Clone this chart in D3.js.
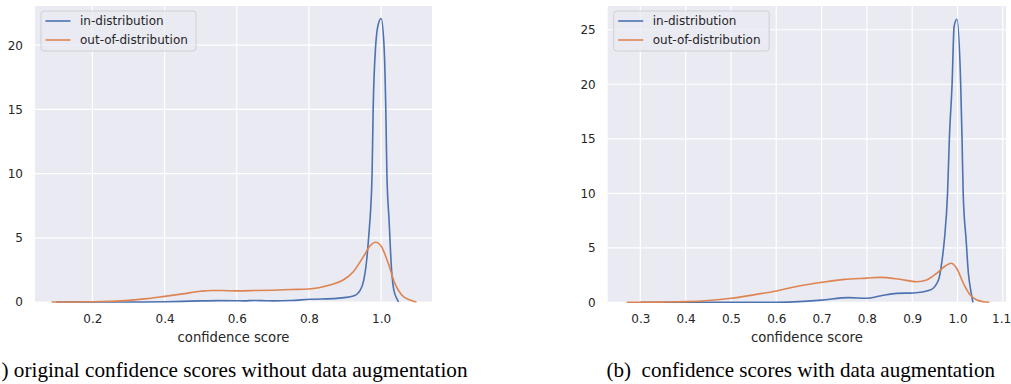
<!DOCTYPE html>
<html><head><meta charset="utf-8">
<script src="https://cdn.jsdelivr.net/npm/d3@7"></script>
<style>body{margin:0;background:#fff}svg{display:block}</style>
</head><body>
<svg id="c" width="1011" height="384"></svg>
<script>
// ---- data ----
const seriesNames = ["in-distribution", "out-of-distribution"];
const colors = ["#4c72b0", "#dd8452"];

// Panel (a): without augmentation
const aInX  = [0.10,0.30,0.40,0.45,0.50,0.55,0.60,0.62,0.65,0.68,0.70,0.75,0.803,0.877,0.923,0.941,0.952,0.960,0.967,0.971,0.975,0.978,0.985,0.9924,1.000,1.008,1.013,1.016,1.022,1.029,1.035,1.045,1.048];
const aInY  = [0,0,0.02,0.05,0.09,0.11,0.10,0.09,0.12,0.10,0.09,0.12,0.21,0.28,0.46,0.87,1.70,3.25,5.6,7.2,10.0,15.0,20.0,21.66,22.08,20.0,15.0,10.0,6.4,2.5,0.96,0.18,0];
const aOutX = [0.087,0.15,0.20,0.25,0.30,0.35,0.40,0.45,0.50,0.53,0.56,0.60,0.65,0.70,0.75,0.80,0.858,0.895,0.923,0.951,0.969,0.985,1.001,1.020,1.038,1.057,1.080,1.098];
const aOutY = [0,0.005,0.02,0.06,0.13,0.26,0.44,0.63,0.84,0.90,0.89,0.87,0.89,0.92,0.97,1.01,1.32,1.71,2.36,3.53,4.36,4.65,4.30,3.00,1.45,0.54,0.16,0];

// Panel (b): with augmentation
const bInX  = [0.30,0.50,0.60,0.65,0.70,0.76,0.80,0.829,0.866,0.903,0.940,0.958,0.965,0.971,0.978,0.982,0.988,0.9925,0.9986,1.007,1.010,1.0125,1.019,1.024,1.029,1.034];
const bInY  = [0,0,0.01,0.06,0.20,0.43,0.37,0.58,0.82,0.86,1.13,2.05,3.58,5.72,10.0,15.0,20.0,25.3,25.96,20.0,15.0,10.0,5.72,2.66,1.13,0];
const bOutX = [0.27,0.30,0.35,0.40,0.45,0.50,0.55,0.60,0.65,0.70,0.75,0.80,0.829,0.873,0.910,0.932,0.954,0.973,0.986,0.998,1.013,1.028,1.043,1.057,1.07];
const bOutY = [0,0.005,0.02,0.06,0.17,0.37,0.68,1.04,1.50,1.83,2.10,2.22,2.29,2.11,1.89,2.05,2.66,3.33,3.58,3.12,1.74,0.67,0.21,0.05,0];

const aXTicks = [0.2,0.4,0.6,0.8,1.0];
const aYTicks = [0,5,10,15,20];
const bXTicks = [0.3,0.4,0.5,0.6,0.7,0.8,0.9,1.0,1.1];
const bYTicks = [0,5,10,15,20,25];
const xLabel = "confidence score";
const captions = [") original confidence scores without data augmentation", "(b)  confidence scores with data augmentation"];

// ---- drawing ----
const svg = d3.select("#c");
const font = "'DejaVu Sans', sans-serif";

function panel(o) {
  const x = d3.scaleLinear().domain(o.xd).range([o.l, o.r]);
  const y = d3.scaleLinear().domain(o.yd).range([o.b, o.t]);
  const g = svg.append("g");
  g.append("rect").attr("x", o.l).attr("y", o.t).attr("width", o.r - o.l).attr("height", o.b - o.t).attr("fill", "#eaeaf2");
  g.selectAll(".vx").data(o.xt).join("line").attr("x1", d => x(d)).attr("x2", d => x(d)).attr("y1", o.t).attr("y2", o.b).attr("stroke", "#fff").attr("stroke-width", 1.2);
  g.selectAll(".hy").data(o.yt).join("line").attr("y1", d => y(d)).attr("y2", d => y(d)).attr("x1", o.l).attr("x2", o.r).attr("stroke", "#fff").attr("stroke-width", 1.2);
  const xa = g.append("g").attr("transform", `translate(0,${o.b})`)
    .call(d3.axisBottom(x).tickValues(o.xt).tickFormat(d3.format(".1f")).tickSize(0).tickPadding(12));
  const ya = g.append("g").attr("transform", `translate(${o.l},0)`)
    .call(d3.axisLeft(y).tickValues(o.yt).tickFormat(d3.format("d")).tickSize(0).tickPadding(12));
  [xa, ya].forEach(a => {
    a.select(".domain").remove();
    a.selectAll("text").attr("fill", "#262626").style("font-family", font).style("font-size", "12px");
  });
  // keep the outermost label inside the page
  xa.selectAll(".tick").filter(d => x(d) + 10 > 1011).select("text").attr("x", -1.7);
  g.append("text").attr("x", (o.l + o.r) / 2).attr("y", o.b + 39.5).attr("text-anchor", "middle")
    .attr("fill", "#262626").style("font-family", font).style("font-size", "13.2px").text(xLabel);
  const line = d3.line().x(d => x(d[0])).y(d => y(d[1])).curve(d3.curveMonotoneX);
  o.series.forEach((s, i) => {
    g.append("path").datum(d3.zip(s[0], s[1])).attr("d", line).attr("fill", "none")
      .attr("stroke", colors[i]).attr("stroke-width", 1.6).attr("stroke-linejoin", "round");
  });
  const lg = g.append("g").attr("transform", `translate(${o.l + 6},${o.t + 5})`);
  lg.append("rect").attr("x", 0).attr("y", 0).attr("width", o.lw).attr("height", 40).attr("rx", 3)
    .attr("fill", "#eaeaf2").attr("fill-opacity", 0.8).attr("stroke", "#cfcfd6").attr("stroke-width", 1);
  seriesNames.forEach((n, i) => {
    const yy = 10 + i * 19;
    lg.append("line").attr("x1", 4.5).attr("x2", 29.5).attr("y1", yy).attr("y2", yy).attr("stroke", colors[i]).attr("stroke-width", 1.6);
    lg.append("text").attr("x", 39).attr("y", yy + 4.3).attr("fill", "#262626").style("font-family", font).style("font-size", "12px").text(n);
  });
}

panel({l: 35, r: 432, t: 6, b: 302, xd: [0.041, 1.141], yd: [0, 23.05], xt: aXTicks, yt: aYTicks, lw: 155,
  series: [[aInX, aInY], [aOutX, aOutY]]});
panel({l: 607.7, r: 1006, t: 6, b: 302.3, xd: [0.228, 1.107], yd: [0, 27.18], xt: bXTicks, yt: bYTicks, lw: 155.5,
  series: [[bInX, bInY], [bOutX, bOutY]]});

const serif = "'Liberation Serif', 'Times New Roman', serif";
svg.append("text").attr("x", 1.5).attr("y", 377).attr("fill", "#000")
  .attr("textLength", 466).attr("lengthAdjust", "spacingAndGlyphs")
  .style("font-family", serif).style("font-size", "21px").text(captions[0]);
svg.append("text").attr("x", 606.5).attr("y", 377).attr("fill", "#000")
  .attr("textLength", 388.5).attr("lengthAdjust", "spacingAndGlyphs")
  .style("white-space", "pre")
  .style("font-family", serif).style("font-size", "21px").text(captions[1]);
</script>
</body></html>
